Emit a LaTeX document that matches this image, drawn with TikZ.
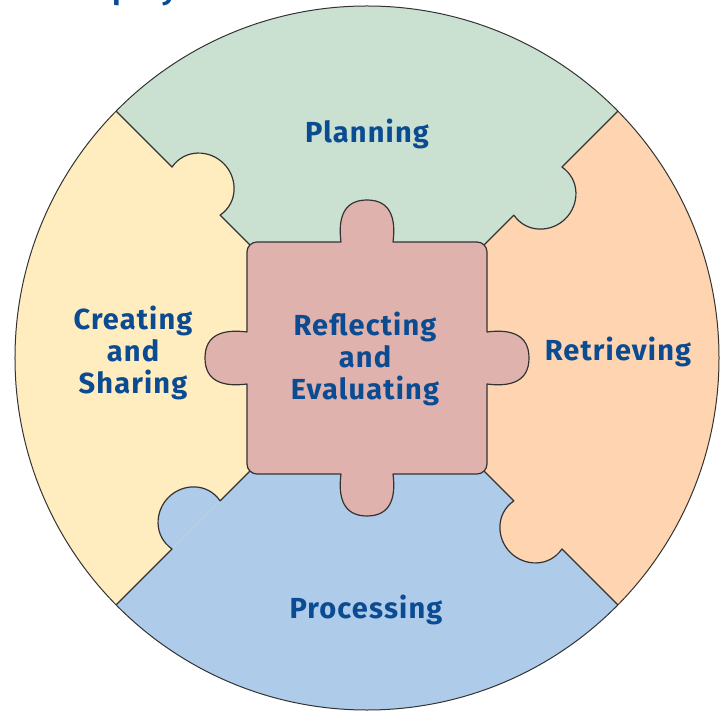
\documentclass[tikz,border=0pt]{standalone}
\usepackage{fontspec}
\usepackage{xcolor}
\usepackage{tikz}
\newfontfamily\piecefont{Fira Sans}[LetterSpace=4]
\definecolor{pgreen}{RGB}{202,225,210}
\definecolor{pyellow}{RGB}{255,236,191}
\definecolor{porange}{RGB}{254,213,176}
\definecolor{pblue}{RGB}{174,203,233}
\definecolor{ppink}{RGB}{223,178,173}
\definecolor{inkblue}{RGB}{10,75,145}

\begin{document}
\begin{tikzpicture}[
  x=1pt, y=1pt,
  piecetext/.style={font=\piecefont\bfseries\fontsize{29}{32}\selectfont, text=inkblue, align=center},
  edge/.style={draw=black!80, line width=1.2pt, line join=round},
]
\useasboundingbox (-367,-353) rectangle (360,358);
% title, cut by the top edge
\node[piecetext, anchor=base west] (title) at (-295,358) {Inquiry Model};

\begin{scope}
\clip (0,0) circle[radius=352];
\fill[pgreen] (0,0) -- (-120,116) -- (-420,416) -- (420,416) -- (120,116) -- cycle;
\fill[porange] (0,0) -- (120,116) -- (420,416) -- (420,-416) -- (120,-116) -- cycle;
\fill[pblue] (0,0) -- (120,-116) -- (420,-416) -- (-420,-416) -- (-120,-116) -- cycle;
\fill[pyellow] (0,0) -- (-120,-116) -- (-420,-416) -- (-420,416) -- (-120,116) -- cycle;
% dividers, each with its knob
\foreach \cx/\cy/\ang/\col in {-120/116/135/pyellow, 120/116/45/pgreen, 120/-116/-45/porange, -120/-116/-135/pblue}{
  \begin{scope}[shift={(\cx,\cy)}, rotate=\ang]
    \fill[\col] (38,0) .. controls (34,-22) and (52,-39) .. (72,-39) .. controls (92,-39) and (110,-22) .. (106,0) -- cycle;
    \draw[edge] (-10,0) -- (38,0) .. controls (34,-22) and (52,-39) .. (72,-39) .. controls (92,-39) and (110,-22) .. (106,0) -- (260,0);
  \end{scope}
}
\end{scope}

% centre piece
\draw[edge, fill=ppink] (-110,116) -- (-26,116) .. controls (-29,139) and (-24,158) .. (0,158) .. controls (24,158) and (29,139) .. (26,116)
  -- (110,116) arc[start angle=90, end angle=0, radius=10]
  -- (120,26) .. controls (143,29) and (162,24) .. (162,0) .. controls (162,-24) and (143,-29) .. (120,-26)
  -- (120,-106) arc[start angle=0, end angle=-90, radius=10]
  -- (26,-116) .. controls (29,-139) and (24,-158) .. (0,-158) .. controls (-24,-158) and (-29,-139) .. (-26,-116)
  -- (-110,-116) arc[start angle=270, end angle=180, radius=10]
  -- (-120,-26) .. controls (-143,-29) and (-162,-24) .. (-162,0) .. controls (-162,24) and (-143,29) .. (-120,26)
  -- (-120,106) arc[start angle=180, end angle=90, radius=10] -- cycle;

\draw[edge, line width=1pt] (0,0) circle[radius=352];

\node[piecetext] (planning) at (0,224) {Planning};
\node[piecetext] (creating) at (-234,5) {Creating\\and\\Sharing};
\node[piecetext] (reflecting) at (-2,-1) {Reflecting\\and\\Evaluating};
\node[piecetext] (retrieving) at (251,6) {Retrieving};
\node[piecetext] (processing) at (-1,-252) {Processing};
\end{tikzpicture}
\end{document}
